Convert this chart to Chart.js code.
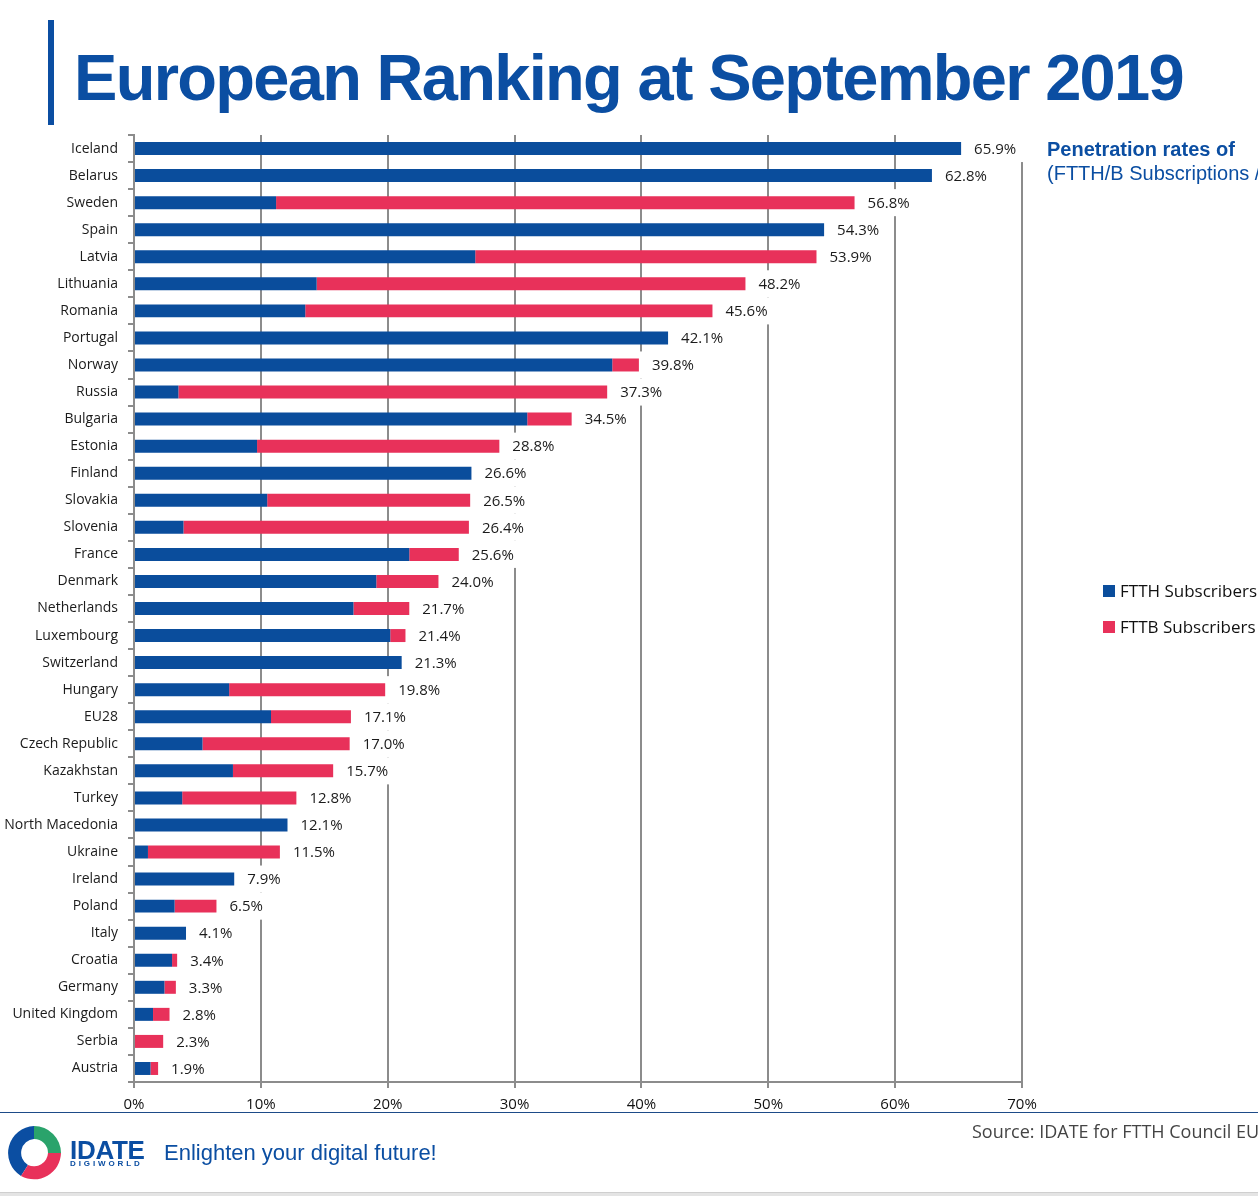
<!DOCTYPE html>
<html>
<head>
<meta charset="utf-8">
<title>European Ranking at September 2019</title>
<script src="https://cdn.jsdelivr.net/npm/chart.js@4.4.0/dist/chart.umd.min.js"></script>
<style>
    html, body { margin: 0; padding: 0; background: #fff; }
    body { width: 1258px; height: 1196px; position: relative; overflow: hidden; font-family: "Liberation Sans", Arial, sans-serif; }
    #scoreChart { position: absolute; left: 0; top: 0; }
    .abs { position: absolute; white-space: nowrap; line-height: 1; }
    #titleBar { left: 48px; top: 20px; width: 6px; height: 105px; background: #0b4ea2; }
    #title { left: 74px; top: 45px; font-size: 65px; font-weight: bold; letter-spacing: -1.7px; color: #0b4ea2; }
    #sub1 { left: 1047px; top: 139px; font-size: 20px; font-weight: bold; color: #0b4ea2; }
    #sub2 { left: 1047px; top: 163px; font-size: 20px; color: #0b4ea2; }
    #footLine { left: 0; top: 1112px; width: 1258px; height: 1px; background: #1d4b88; }
    #logo { left: 6px; top: 1125px; }
    #idate { left: 70px; top: 1137px; font-size: 26px; font-weight: bold; letter-spacing: -0.3px; color: #0b4ea2; }
    #digiworld { left: 70px; top: 1160px; font-size: 8px; font-weight: bold; letter-spacing: 2.9px; color: #0b4ea2; }
    #slogan { left: 164px; top: 1142px; font-size: 22px; color: #0b4ea2; }
    #source { left: 972px; top: 1122px; font-family: "Open Sans", sans-serif; font-size: 18px; color: #444; }
    #bottomLine { left: 0; top: 1192px; width: 1258px; height: 4px; background: #e4e4e4; border-top: 1px solid #cfcfcf; }
</style>
</head>
<body>
<canvas id="scoreChart" width="1258" height="1196"></canvas>

<div class="abs" id="titleBar"></div>
<div class="abs" id="title">European Ranking at September 2019</div>
<div class="abs" id="sub1">Penetration rates of</div>
<div class="abs" id="sub2">(FTTH/B Subscriptions /</div>

<div class="abs" id="footLine"></div>
<svg class="abs" id="logo" width="56" height="56" viewBox="0 0 56 56">
    <path d="M28 1 A27 27 0 0 0 15 51 L22 40 A14 14 0 0 1 28 14 Z" fill="#0b4ea2"/>
    <path d="M28 1 A27 27 0 0 1 55 28 L42 28 A14 14 0 0 0 28 14 Z" fill="#2aa36b"/>
    <path d="M55 28 A27 27 0 0 1 15 51 L22 40 A14 14 0 0 0 42 28 Z" fill="#e8315a"/>
    <circle cx="27" cy="27" r="9" fill="#fff"/>
</svg>
<div class="abs" id="idate">IDATE</div>
<div class="abs" id="digiworld">DIGIWORLD</div>
<div class="abs" id="slogan">Enlighten your digital future!</div>
<div class="abs" id="source">Source: IDATE for FTTH Council EUROPE</div>
<div class="abs" id="bottomLine"></div>

<script>
// 國家 / 地區
const categories = ['Iceland', 'Belarus', 'Sweden', 'Spain', 'Latvia', 'Lithuania', 'Romania', 'Portugal',
    'Norway', 'Russia', 'Bulgaria', 'Estonia', 'Finland', 'Slovakia', 'Slovenia', 'France', 'Denmark',
    'Netherlands', 'Luxembourg', 'Switzerland', 'Hungary', 'EU28', 'Czech Republic', 'Kazakhstan', 'Turkey',
    'North Macedonia', 'Ukraine', 'Ireland', 'Poland', 'Italy', 'Croatia', 'Germany', 'United Kingdom',
    'Serbia', 'Austria'];

// FTTH 部分 (%)
const ftthValues = [65.2, 62.9, 11.2, 54.4, 26.9, 14.4, 13.5, 42.1, 37.7, 3.5, 31.0, 9.7, 26.6, 10.5, 3.9,
    21.7, 19.1, 17.3, 20.2, 21.1, 7.5, 10.8, 5.4, 7.8, 3.8, 12.1, 1.1, 7.9, 3.2, 4.1, 3.0, 2.4, 1.5, 0.0, 1.3];

// FTTB 部分 (%)
const fttbValues = [0.0, 0.0, 45.6, 0.0, 26.9, 33.8, 32.1, 0.0, 2.1, 33.8, 3.5, 19.1, 0.0, 16.0, 22.5,
    3.9, 4.9, 4.4, 1.2, 0.0, 12.3, 6.3, 11.6, 7.9, 9.0, 0.0, 10.4, 0.0, 3.3, 0.0, 0.4, 0.9, 1.3, 2.3, 0.6];

// 標籤上的總值 (%)
const totalLabels = [65.9, 62.8, 56.8, 54.3, 53.9, 48.2, 45.6, 42.1, 39.8, 37.3, 34.5, 28.8, 26.6, 26.5, 26.4,
    25.6, 24.0, 21.7, 21.4, 21.3, 19.8, 17.1, 17.0, 15.7, 12.8, 12.1, 11.5, 7.9, 6.5, 4.1, 3.4, 3.3, 2.8, 2.3, 1.9];

// x 軸刻度
const xTicks = [0, 10, 20, 30, 40, 50, 60, 70];

const seriesNames = ['FTTH Subscribers', 'FTTB Subscribers'];
const seriesColors = ['#0a4d9c', '#e8315a'];

function pctText(v) {
    return v.toFixed(1) + '%';
}

// 標籤後面的白色底塊 (蓋住格線), 然後寫上數值
const totalLabelPlugin = {
    id: 'totalLabels',
    beforeDatasetsDraw: function (chart) {
        const ctx = chart.ctx;
        const meta = chart.getDatasetMeta(1);
        const area = chart.chartArea;
        const rowH = chart.scales.y.height / categories.length;
        ctx.save();
        ctx.font = '15px "Open Sans"';
        ctx.fillStyle = '#ffffff';
        meta.data.forEach(function (bar, i) {
            const w = ctx.measureText(pctText(totalLabels[i])).width;
            const top = Math.max(bar.y - rowH / 2, area.top);
            const bottom = Math.min(bar.y + rowH / 2, area.bottom - 2);
            ctx.fillRect(bar.x, top, w + 26, bottom - top);
        });
        ctx.restore();
    },
    afterDatasetsDraw: function (chart) {
        const ctx = chart.ctx;
        const meta = chart.getDatasetMeta(1);
        ctx.save();
        ctx.font = '15px "Open Sans"';
        ctx.fillStyle = '#1b1b1b';
        ctx.textBaseline = 'middle';
        ctx.textAlign = 'left';
        meta.data.forEach(function (bar, i) {
            ctx.fillText(pctText(totalLabels[i]), bar.x + 13, bar.y + 1);
        });
        ctx.restore();
    }
};

// 右側圖例
const sideLegendPlugin = {
    id: 'sideLegend',
    afterDraw: function (chart) {
        const ctx = chart.ctx;
        ctx.save();
        ctx.font = '17px "Open Sans"';
        ctx.textBaseline = 'middle';
        chart.data.datasets.forEach(function (ds, i) {
            const y = 591 + i * 36;
            ctx.fillStyle = ds.backgroundColor;
            ctx.fillRect(1103, y - 6, 12, 12);
            ctx.fillStyle = '#111';
            ctx.fillText(ds.label, 1120, y + 1);
        });
        ctx.restore();
    }
};

function createRankingChart() {
    const canvas = document.getElementById('scoreChart').getContext('2d');

    const rankingChart = new Chart(canvas, {
        type: 'bar',
        data: {
            labels: categories,
            datasets: [{
                label: seriesNames[0],
                data: ftthValues,
                backgroundColor: seriesColors[0],
                barPercentage: 0.48,
                categoryPercentage: 1.0
            }, {
                label: seriesNames[1],
                data: fttbValues,
                backgroundColor: seriesColors[1],
                barPercentage: 0.48,
                categoryPercentage: 1.0
            }]
        },
        options: {
            indexAxis: 'y',
            responsive: false,
            animation: false,
            devicePixelRatio: 1,
            layout: {
                padding: { top: 135, right: 236, bottom: 74, left: 0 }
            },
            plugins: {
                legend: { display: false },
                tooltip: { enabled: false }
            },
            scales: {
                x: {
                    stacked: true,
                    min: xTicks[0],
                    max: xTicks[xTicks.length - 1],
                    afterBuildTicks: function (scale) {
                        scale.ticks = xTicks.map(v => ({ value: v }));
                    },
                    ticks: {
                        callback: v => v + '%',
                        font: { family: 'Open Sans', size: 15 },
                        color: '#111',
                        padding: 8,
                        maxRotation: 0
                    },
                    grid: { color: '#8c8c8c', lineWidth: 2, tickLength: 6 },
                    border: { color: '#8c8c8c', width: 2 }
                },
                y: {
                    stacked: true,
                    afterFit: function (scale) {
                        scale.width = 134;
                    },
                    ticks: {
                        font: { family: 'Open Sans', size: 14 },
                        color: '#1b1b1b',
                        padding: 10,
                        autoSkip: false
                    },
                    grid: { drawOnChartArea: false, color: '#8c8c8c', lineWidth: 2, tickLength: 6 },
                    border: { color: '#8c8c8c', width: 2 }
                }
            }
        },
        plugins: [totalLabelPlugin, sideLegendPlugin]
    });
}

createRankingChart();
</script>
</body>
</html>
